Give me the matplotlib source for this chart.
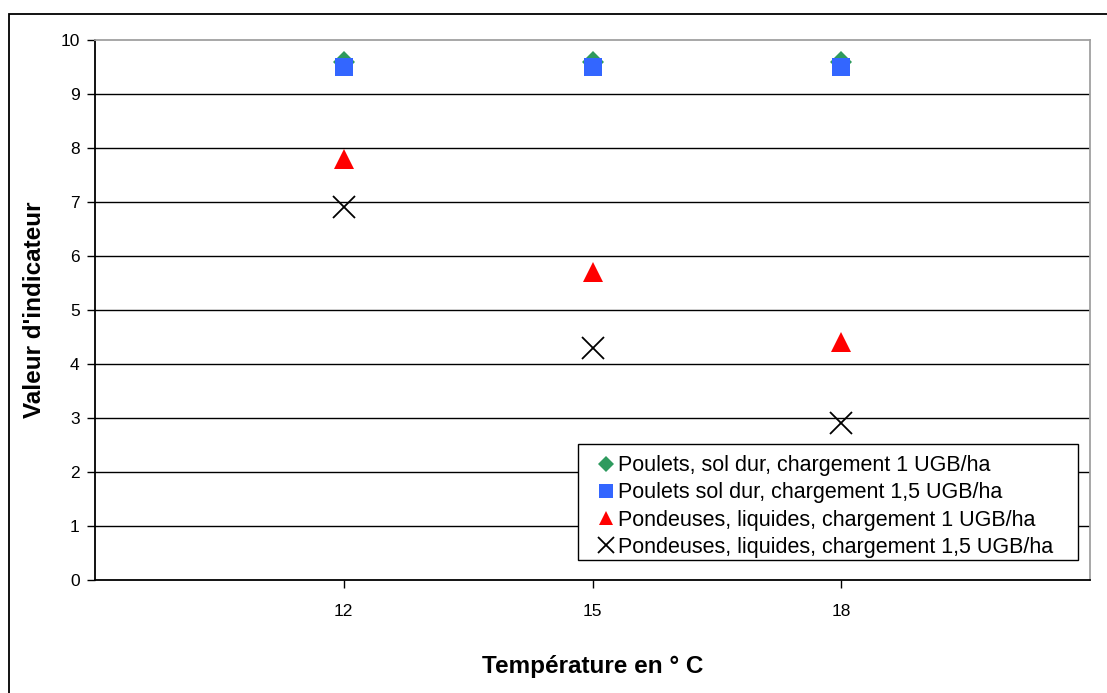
import matplotlib
matplotlib.use("Agg")
import matplotlib.pyplot as plt
from matplotlib.patches import Rectangle

plt.rcParams['font.family'] = ['Liberation Sans', 'DejaVu Sans']

categories = ['12', '15', '18']
poulets_1 = [9.6, 9.6, 9.6]
poulets_15 = [9.5, 9.5, 9.5]
pondeuses_1 = [7.8, 5.7, 4.4]
pondeuses_15 = [6.9, 4.3, 2.9]
yticks = list(range(0, 11))

W, H = 1107, 693
fig = plt.figure(figsize=(W/100, H/100), dpi=100)
fig.patches.append(Rectangle((9/W, -0.05), 1.2, 1 - 14/H + 0.05, transform=fig.transFigure,
                             fill=False, edgecolor='black', linewidth=1.3, zorder=0))
ax = fig.add_axes([95/W, 1 - 580/H, (1090-95)/W, (580-40)/H])

x = [1, 2, 3]
ax.plot(x, poulets_1, linestyle='none', marker='D', markersize=11.5, color='#2E9A5E',
        markeredgewidth=0, label='Poulets, sol dur, chargement 1 UGB/ha', zorder=3)
ax.plot(x, poulets_15, linestyle='none', marker='s', markersize=13, color='#3366FF',
        markeredgewidth=0, label='Poulets sol dur, chargement 1,5 UGB/ha', zorder=4)
ax.plot(x, pondeuses_1, linestyle='none', marker='^', markersize=14, color='#FF0000',
        markeredgewidth=0, label='Pondeuses, liquides, chargement 1 UGB/ha', zorder=3)
ax.plot(x, pondeuses_15, linestyle='none', marker='x', markersize=16, color='black',
        markeredgewidth=1.3, label='Pondeuses, liquides, chargement 1,5 UGB/ha', zorder=3)

ax.set_xlim(0, 4)
ax.set_ylim(0, 10)
ax.set_xticks(x)
ax.set_xticklabels(categories)
ax.set_yticks(yticks)
ax.tick_params(axis='both', labelsize=12.5, direction='out', length=6, width=1, color='black')
ax.tick_params(axis='x', pad=11)
ax.tick_params(axis='y', pad=5)
for yv in yticks[1:-1]:
    ax.axhline(yv, color='black', linewidth=1, zorder=1)
ax.spines['left'].set_color('black')
ax.spines['bottom'].set_color('black')
ax.spines['top'].set_color('#A0A0A0')
ax.spines['right'].set_color('#A0A0A0')
for s in ax.spines.values():
    s.set_linewidth(1.3)

fig.text(35/W, 1 - 310/H, "Valeur d'indicateur", rotation=90, fontsize=17.5,
         fontweight='bold', ha='center', va='center')
fig.text(593/W, 1 - 666/H, "Température en ° C", fontsize=17.5,
         fontweight='bold', ha='center', va='center')

# legend frame drawn as a box above the gridlines, legend entries without frame
ax.add_patch(Rectangle((578/W, 1 - 560/H), 500/W, 116/H, transform=fig.transFigure,
                       facecolor='white', edgecolor='black', linewidth=1, zorder=5,
                       clip_on=False))
leg = ax.legend(loc='upper left', bbox_to_anchor=(591/W, 1 - 449/H),
                bbox_transform=fig.transFigure, borderaxespad=0, fontsize=15.5,
                frameon=False, markerscale=0.75, handlelength=0.8, handletextpad=0.15,
                labelspacing=0.28, borderpad=0.3)
leg.set_zorder(6)

fig.savefig('out.png', dpi=100)
